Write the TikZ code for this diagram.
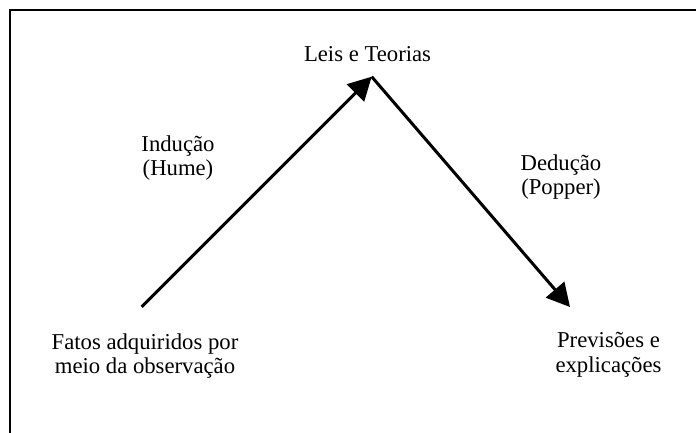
\documentclass[tikz,border=0pt]{standalone}
\usepackage{fontspec}
\setmainfont{Liberation Serif}
\usetikzlibrary{arrows.meta,positioning}

\begin{document}
\begin{tikzpicture}[x=1pt,y=-1pt,inner sep=0pt,align=center,
  font=\fontsize{22.7}{24.5}\selectfont,
  seta/.style={line width=3pt,-{Triangle[length=23pt,width=24pt]}}]

  \useasboundingbox (0,0) rectangle (696,433);
  \draw[line width=2pt] (696,10.5) -- (9.5,10.5) -- (9.5,433);

  \coordinate (base) at (141.7,306.7);
  \coordinate (top)  at (371.7,76.7);
  \coordinate (tip)  at (570,307);

  \node (leis)      at (367.5,54.5) {Leis e Teorias};
  \node (inducao)   at (178,158)    {Indução\\(Hume)};
  \node (deducao)   at (561,177)    {Dedução\\(Popper)};
  \node (fatos)     at (145,356)    {Fatos adquiridos por\\meio da observação};
  \node (previsoes) at (608.5,355)  {Previsões e\\explicações};

\path[seta]
(base)  edge  (top)
(top)   edge  (tip)
;
\end{tikzpicture}
\end{document}
